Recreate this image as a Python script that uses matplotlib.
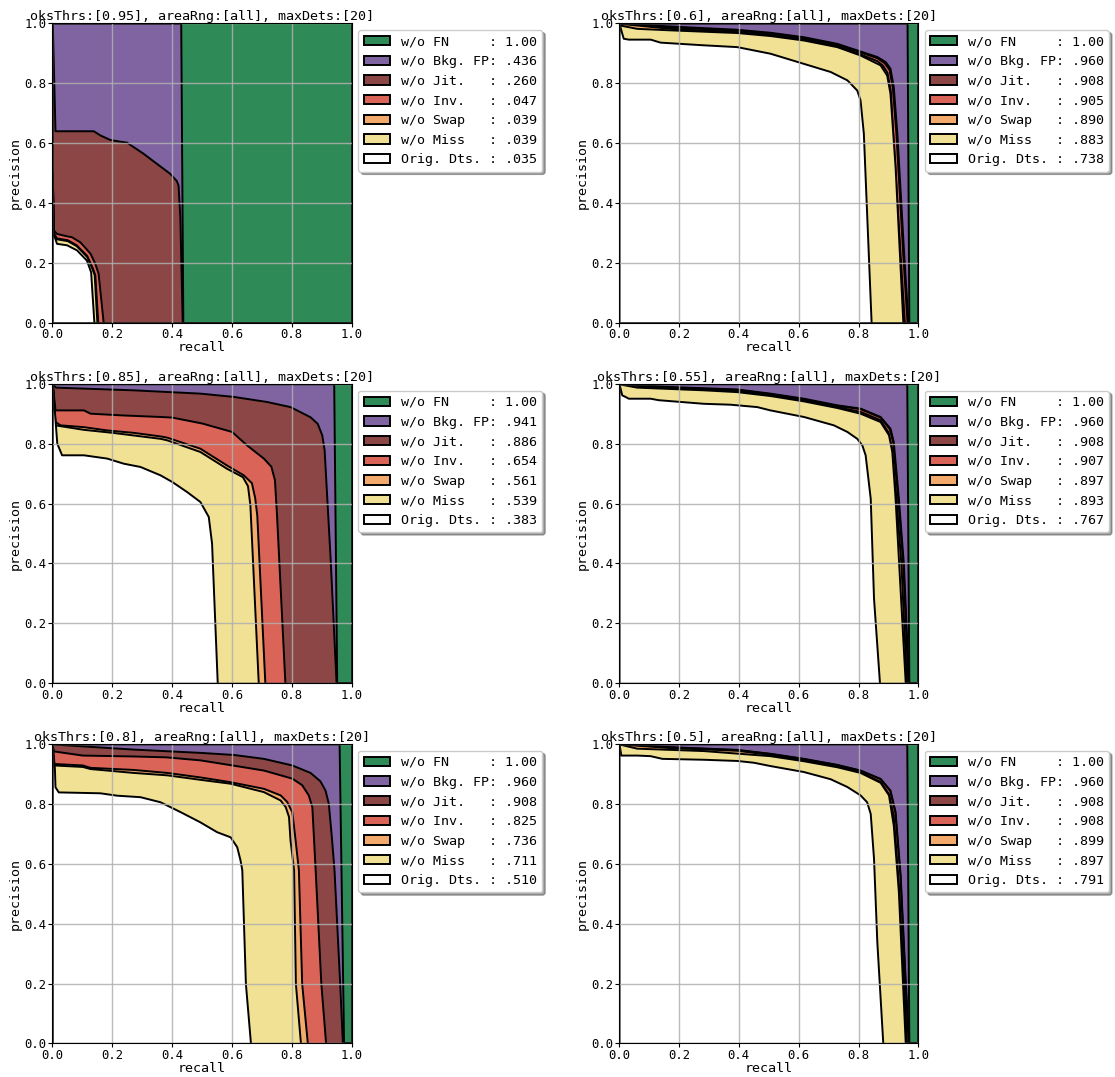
import matplotlib
matplotlib.use('Agg')
import matplotlib.pyplot as plt

plt.rcParams['font.family'] = 'monospace'

names = ['w/o FN', 'w/o Bkg. FP', 'w/o Jit.', 'w/o Inv.', 'w/o Swap', 'w/o Miss', 'Orig. Dts.']
fill_colors = ['#2E8B57', '#8064A2', '#8C4646', '#DB6458', '#F3AA6D', '#F0E194', '#FFFFFF']

# (recall, precision) points

# oksThrs 0.95
bkg_95 = [(0, 1), (0.429, 1), (0.436, 0)]
jit_95 = [(0, 1), (0.009, 0.641), (0.137, 0.641), (0.159, 0.627), (0.192, 0.612), (0.22, 0.607),
          (0.248, 0.603), (0.27, 0.588), (0.303, 0.566), (0.348, 0.532), (0.392, 0.499),
          (0.414, 0.475), (0.42, 0.46), (0.426, 0.354), (0.434, 0)]
inv_95 = [(0, 0.504), (0.003, 0.31), (0.014, 0.298), (0.048, 0.29), (0.064, 0.287), (0.092, 0.27),
          (0.126, 0.232), (0.142, 0.198), (0.153, 0.165), (0.17, 0)]
swap_95 = [(0, 0.5), (0.003, 0.3), (0.014, 0.283), (0.05, 0.277), (0.08, 0.26), (0.115, 0.224),
           (0.133, 0.185), (0.142, 0.16), (0.152, 0)]
miss_95 = [(0, 0.5), (0.003, 0.3), (0.014, 0.28), (0.05, 0.274), (0.08, 0.257), (0.115, 0.221),
           (0.132, 0.182), (0.14, 0.16), (0.149, 0)]
orig_95 = [(0, 0.5), (0.003, 0.298), (0.014, 0.265), (0.048, 0.26), (0.081, 0.243), (0.114, 0.209),
           (0.128, 0.17), (0.139, 0)]

# oksThrs 0.85
bkg_85 = [(0, 1), (0.94, 1), (0.95, 0)]
jit_85 = [(0, 1), (0.011, 0.989), (0.27, 0.98), (0.493, 0.969), (0.605, 0.958), (0.716, 0.941),
          (0.794, 0.924), (0.861, 0.89), (0.885, 0.868), (0.9, 0.83), (0.908, 0.78),
          (0.928, 0.418), (0.948, 0)]
inv_85 = [(0, 1), (0.009, 0.913), (0.104, 0.913), (0.126, 0.902), (0.237, 0.896), (0.36, 0.891),
          (0.399, 0.889), (0.5, 0.869), (0.599, 0.841), (0.649, 0.796), (0.705, 0.752),
          (0.73, 0.725), (0.742, 0.68), (0.749, 0.562), (0.777, 0)]
swap_85 = [(0, 1), (0.009, 0.874), (0.026, 0.863), (0.104, 0.857), (0.182, 0.846), (0.27, 0.838),
           (0.36, 0.826), (0.382, 0.822), (0.493, 0.785), (0.582, 0.729), (0.638, 0.696),
           (0.665, 0.67), (0.676, 0.62), (0.683, 0.562), (0.71, 0)]
miss_85 = [(0, 1), (0.009, 0.863), (0.104, 0.848), (0.2, 0.838), (0.36, 0.818), (0.382, 0.813),
           (0.493, 0.774), (0.582, 0.718), (0.635, 0.69), (0.652, 0.66), (0.66, 0.596), (0.688, 0)]
orig_85 = [(0, 1), (0.015, 0.802), (0.031, 0.763), (0.104, 0.763), (0.182, 0.752), (0.237, 0.735),
           (0.293, 0.724), (0.36, 0.696), (0.399, 0.674), (0.449, 0.64), (0.493, 0.607),
           (0.521, 0.557), (0.532, 0.468), (0.551, 0)]

# oksThrs 0.8
bkg_80 = [(0, 1), (0.958, 1), (0.973, 0)]
jit_80 = [(0, 1), (0.27, 0.983), (0.493, 0.972), (0.605, 0.965), (0.705, 0.952), (0.8, 0.93),
          (0.861, 0.905), (0.894, 0.877), (0.911, 0.846), (0.922, 0.802), (0.933, 0.68),
          (0.941, 0.58), (0.96, 0.2), (0.969, 0)]
inv_80 = [(0, 1), (0.003, 0.977), (0.1, 0.963), (0.27, 0.96), (0.38, 0.957), (0.493, 0.947),
          (0.6, 0.93), (0.705, 0.913), (0.8, 0.886), (0.833, 0.864), (0.855, 0.83), (0.867, 0.79),
          (0.878, 0.58), (0.897, 0.2), (0.913, 0)]
swap_80 = [(0, 1), (0.003, 0.935), (0.1, 0.93), (0.126, 0.922), (0.27, 0.915), (0.382, 0.905),
           (0.493, 0.89), (0.594, 0.874), (0.705, 0.852), (0.761, 0.83), (0.783, 0.808),
           (0.8, 0.774), (0.811, 0.68), (0.822, 0.58), (0.833, 0.2), (0.852, 0)]
miss_80 = [(0, 1), (0.003, 0.93), (0.1, 0.925), (0.126, 0.918), (0.27, 0.905), (0.382, 0.897),
           (0.493, 0.882), (0.594, 0.869), (0.705, 0.841), (0.761, 0.813), (0.778, 0.791),
           (0.789, 0.758), (0.794, 0.68), (0.806, 0.58), (0.812, 0.2), (0.829, 0)]
orig_80 = [(0, 1), (0.007, 0.92), (0.009, 0.857), (0.02, 0.84), (0.159, 0.837), (0.215, 0.829),
           (0.293, 0.824), (0.36, 0.807), (0.427, 0.774), (0.493, 0.74), (0.549, 0.707),
           (0.594, 0.69), (0.616, 0.657), (0.627, 0.613), (0.633, 0.58), (0.645, 0.2), (0.662, 0)]

# oksThrs 0.6
bkg_60 = [(0, 1), (0.962, 1), (0.968, 0)]
jit_60 = [(0, 1), (0.17, 0.991), (0.393, 0.98), (0.504, 0.97), (0.616, 0.955), (0.727, 0.933),
          (0.794, 0.911), (0.861, 0.889), (0.889, 0.872), (0.905, 0.85), (0.916, 0.788),
          (0.928, 0.633), (0.95, 0.243), (0.965, 0)]
inv_60 = [(0, 1), (0.17, 0.988), (0.393, 0.977), (0.504, 0.967), (0.616, 0.952), (0.727, 0.93),
          (0.794, 0.908), (0.861, 0.885), (0.886, 0.868), (0.902, 0.846), (0.913, 0.785),
          (0.925, 0.63), (0.947, 0.24), (0.962, 0)]
swap_60 = [(0, 1), (0.17, 0.983), (0.393, 0.972), (0.504, 0.962), (0.616, 0.947), (0.727, 0.925),
           (0.794, 0.902), (0.861, 0.875), (0.88, 0.86), (0.895, 0.836), (0.906, 0.775),
           (0.916, 0.6), (0.938, 0.24), (0.953, 0)]
miss_60 = [(0, 1), (0.003, 0.994), (0.059, 0.983), (0.17, 0.978), (0.393, 0.969), (0.504, 0.959),
           (0.616, 0.944), (0.727, 0.922), (0.805, 0.894), (0.872, 0.861), (0.894, 0.827),
           (0.905, 0.766), (0.922, 0.521), (0.948, 0)]
orig_60 = [(0, 1), (0.009, 0.967), (0.014, 0.95), (0.031, 0.947), (0.104, 0.947), (0.137, 0.937),
           (0.282, 0.928), (0.393, 0.922), (0.504, 0.9), (0.616, 0.866), (0.705, 0.839),
           (0.761, 0.811), (0.794, 0.777), (0.805, 0.744), (0.816, 0.633), (0.842, 0)]

# oksThrs 0.55
bkg_55 = [(0, 1), (0.961, 1), (0.968, 0)]
jit_55 = [(0, 1), (0.17, 0.991), (0.393, 0.983), (0.504, 0.969), (0.616, 0.952), (0.727, 0.93),
          (0.805, 0.919), (0.872, 0.891), (0.905, 0.852), (0.916, 0.807), (0.933, 0.618),
          (0.95, 0.395), (0.967, 0)]
inv_55 = [(0, 1), (0.17, 0.989), (0.393, 0.981), (0.504, 0.967), (0.616, 0.95), (0.727, 0.928),
          (0.805, 0.917), (0.872, 0.889), (0.903, 0.85), (0.914, 0.805), (0.931, 0.616),
          (0.948, 0.393), (0.965, 0)]
swap_55 = [(0, 1), (0.17, 0.985), (0.393, 0.977), (0.504, 0.964), (0.616, 0.946), (0.727, 0.924),
           (0.805, 0.908), (0.872, 0.88), (0.898, 0.84), (0.909, 0.79), (0.925, 0.618),
           (0.942, 0.39), (0.96, 0)]
miss_55 = [(0, 1), (0.059, 0.989), (0.282, 0.98), (0.393, 0.974), (0.504, 0.961), (0.616, 0.943),
           (0.727, 0.921), (0.805, 0.902), (0.872, 0.874), (0.9, 0.83), (0.911, 0.774),
           (0.922, 0.618), (0.956, 0)]
orig_55 = [(0, 1), (0.009, 0.963), (0.02, 0.958), (0.031, 0.952), (0.104, 0.952), (0.131, 0.947),
           (0.282, 0.935), (0.371, 0.932), (0.46, 0.924), (0.504, 0.913), (0.616, 0.891),
           (0.716, 0.863), (0.761, 0.841), (0.794, 0.818), (0.811, 0.796), (0.822, 0.763),
           (0.839, 0.618), (0.85, 0.284), (0.87, 0)]

# oksThrs 0.5
bkg_50 = [(0, 1), (0.961, 1), (0.968, 0)]
jit_50 = [(0, 1), (0.17, 0.991), (0.393, 0.982), (0.504, 0.969), (0.616, 0.952), (0.727, 0.932),
          (0.805, 0.913), (0.872, 0.885), (0.905, 0.846), (0.922, 0.774), (0.939, 0.562),
          (0.955, 0.228), (0.967, 0)]
inv_50 = [(0, 1), (0.17, 0.99), (0.393, 0.981), (0.504, 0.968), (0.616, 0.951), (0.727, 0.931),
          (0.805, 0.912), (0.872, 0.884), (0.904, 0.845), (0.921, 0.773), (0.938, 0.561),
          (0.954, 0.227), (0.966, 0)]
swap_50 = [(0, 1), (0.17, 0.988), (0.393, 0.979), (0.504, 0.965), (0.616, 0.947), (0.727, 0.926),
           (0.805, 0.907), (0.872, 0.875), (0.9, 0.834), (0.916, 0.76), (0.933, 0.53),
           (0.95, 0.22), (0.96, 0)]
miss_50 = [(0, 1), (0.059, 0.986), (0.282, 0.978), (0.504, 0.961), (0.616, 0.944), (0.727, 0.924),
           (0.805, 0.905), (0.872, 0.872), (0.9, 0.83), (0.916, 0.729), (0.933, 0.507), (0.956, 0)]
orig_50 = [(0, 1), (0.006, 0.963), (0.059, 0.963), (0.104, 0.961), (0.143, 0.952), (0.282, 0.949),
           (0.393, 0.945), (0.449, 0.939), (0.504, 0.928), (0.616, 0.908), (0.705, 0.884),
           (0.761, 0.858), (0.805, 0.83), (0.827, 0.807), (0.839, 0.768), (0.85, 0.618),
           (0.861, 0.34), (0.881, 0)]

# legend scores (FN, Bkg. FP, Jit., Inv., Swap, Miss, Orig.)
scores_95 = ['1.00', '.436', '.260', '.047', '.039', '.039', '.035']
scores_85 = ['1.00', '.941', '.886', '.654', '.561', '.539', '.383']
scores_80 = ['1.00', '.960', '.908', '.825', '.736', '.711', '.510']
scores_60 = ['1.00', '.960', '.908', '.905', '.890', '.883', '.738']
scores_55 = ['1.00', '.960', '.908', '.907', '.897', '.893', '.767']
scores_50 = ['1.00', '.960', '.908', '.908', '.899', '.897', '.791']

panels = [
    ('0.95', [bkg_95, jit_95, inv_95, swap_95, miss_95, orig_95], scores_95),
    ('0.6', [bkg_60, jit_60, inv_60, swap_60, miss_60, orig_60], scores_60),
    ('0.85', [bkg_85, jit_85, inv_85, swap_85, miss_85, orig_85], scores_85),
    ('0.55', [bkg_55, jit_55, inv_55, swap_55, miss_55, orig_55], scores_55),
    ('0.8', [bkg_80, jit_80, inv_80, swap_80, miss_80, orig_80], scores_80),
    ('0.5', [bkg_50, jit_50, inv_50, swap_50, miss_50, orig_50], scores_50),
]


def plot_panel(ax, thr, curves, scores):
    labels = ['%-11s: %s' % (n, s) for n, s in zip(names, scores)]
    # w/o FN covers the whole box
    ax.fill_between([0, 1], [1, 1], facecolor=fill_colors[0], edgecolor='k', lw=1.4, label=labels[0])
    for k, curve in enumerate(curves):
        r = [c[0] for c in curve]
        p = [c[1] for c in curve]
        ax.fill_between(r, p, facecolor=fill_colors[k + 1], edgecolor='k', lw=1.4,
                        label=labels[k + 1])
    ax.set_xlim(0, 1)
    ax.set_ylim(0, 1)
    ax.set_xticks([0, 0.2, 0.4, 0.6, 0.8, 1.0])
    ax.set_yticks([0, 0.2, 0.4, 0.6, 0.8, 1.0])
    ax.tick_params(labelsize=8.8, length=3, pad=1)
    ax.grid(True, color='#b0b0b0', lw=1, alpha=0.85)
    ax.set_xlabel('recall', fontsize=9.6, labelpad=0)
    ax.set_ylabel('precision', fontsize=9.6, labelpad=2)
    ax.set_title('oksThrs:[%s], areaRng:[all], maxDets:[20]' % thr, fontsize=9.6, pad=1)
    ax.legend(loc='upper left', bbox_to_anchor=(1, 1), shadow=True, fontsize=9.6)


fig = plt.figure(figsize=(11.15, 10.77), dpi=100)
lefts = [0.0469, 0.5552]
bottoms = [0.7004, 0.3656, 0.0312]
for i, (thr, curves, scores) in enumerate(panels):
    ax = fig.add_axes([lefts[i % 2], bottoms[i // 2], 0.2685, 0.278])
    plot_panel(ax, thr, curves, scores)

plt.savefig('out.png', dpi=100)
